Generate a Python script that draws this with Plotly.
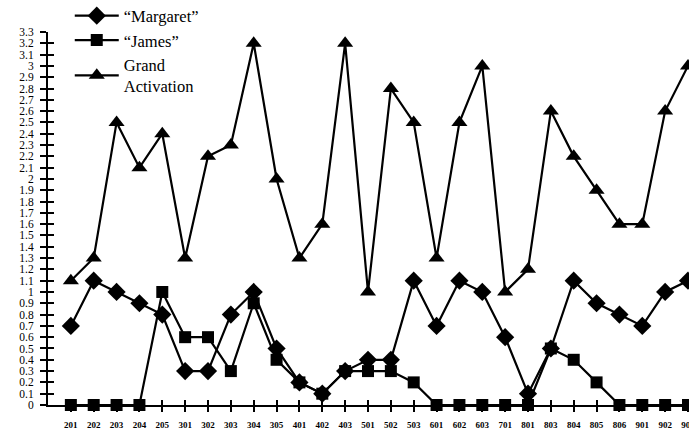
import plotly.graph_objects as go

categories = ["201", "202", "203", "204", "205", "301", "302", "303", "304", "305",
              "401", "402", "403", "501", "502", "503", "601", "602", "603", "701",
              "801", "803", "804", "805", "806", "901", "902", "903"]

margaret = [0.7, 1.1, 1.0, 0.9, 0.8, 0.3, 0.3, 0.8, 1.0, 0.5,
            0.2, 0.1, 0.3, 0.4, 0.4, 1.1, 0.7, 1.1, 1.0, 0.6,
            0.1, 0.5, 1.1, 0.9, 0.8, 0.7, 1.0, 1.1]

james = [0, 0, 0, 0, 1.0, 0.6, 0.6, 0.3, 0.9, 0.4,
         0.2, 0.1, 0.3, 0.3, 0.3, 0.2, 0, 0, 0, 0,
         0, 0.5, 0.4, 0.2, 0, 0, 0, 0]

grand = [1.1, 1.3, 2.5, 2.1, 2.4, 1.3, 2.2, 2.3, 3.2, 2.0,
         1.3, 1.6, 3.2, 1.0, 2.8, 2.5, 1.3, 2.5, 3.0, 1.0,
         1.2, 2.6, 2.2, 1.9, 1.6, 1.6, 2.6, 3.0]

y_tick_labels = ["0", "0.1", "0.2", "0.3", "0.4", "0.5", "0.6", "0.7", "0.8", "0.9",
                 "1", "1.1", "1.2", "1.3", "1.4", "1.5", "1.6", "1.7", "1.8", "1.9",
                 "2", "2.1", "2.2", "2.3", "2.4", "2.5", "2.6", "2.7", "2.8", "2.9",
                 "3", "3.1", "3.2", "3.3"]
y_tick_vals = [float(s) for s in y_tick_labels]

serif = "'Liberation Serif', 'DejaVu Serif', serif"

fig = go.Figure()
fig.add_trace(go.Scatter(x=categories, y=margaret, name="\u201cMargaret\u201d",
                         mode="lines+markers", cliponaxis=False,
                         line=dict(color="black", width=2.2),
                         marker=dict(symbol="diamond", size=14, color="black")))
fig.add_trace(go.Scatter(x=categories, y=james, name="\u201cJames\u201d",
                         mode="lines+markers", cliponaxis=False,
                         line=dict(color="black", width=2.2),
                         marker=dict(symbol="square", size=12, color="black")))
fig.add_trace(go.Scatter(x=categories, y=grand, name="Grand<br>Activation",
                         mode="lines+markers", cliponaxis=False,
                         line=dict(color="black", width=2.2),
                         marker=dict(symbol="triangle-up", size=14, color="black")))

fig.update_layout(
    width=689, height=433,
    margin=dict(l=48, r=1, t=32, b=28, autoexpand=False),
    paper_bgcolor="white", plot_bgcolor="white",
    showlegend=True,
    legend=dict(x=0.034, y=1.09, xanchor="left", yanchor="top",
                font=dict(family=serif, size=16.5, color="black"),
                bgcolor="rgba(0,0,0,0)", tracegroupgap=0, itemwidth=44),
    xaxis=dict(type="category", range=[-1, 27], showgrid=False, zeroline=False,
               showline=True, linecolor="black", linewidth=2,
               ticks="outside", ticklen=5, tickwidth=1.5, tickcolor="black",
               tickfont=dict(family=serif, size=9, color="black", weight="bold"),
               ticklabelstandoff=5),
    xaxis2=dict(overlaying="x", anchor="y", side="bottom", range=[-1, 27],
                tickvals=list(range(len(categories))), showticklabels=False,
                ticks="inside", ticklen=5, tickwidth=1.5, tickcolor="black",
                showgrid=False, zeroline=False, showline=False),
    yaxis=dict(range=[0, 3.3], tickvals=y_tick_vals, ticktext=y_tick_labels,
               showgrid=False, zeroline=False, showline=True, linecolor="black",
               linewidth=2, ticks="outside", ticklen=6, tickwidth=2, tickcolor="black",
               tickfont=dict(family=serif, size=11.5, color="black"),
               ticklabelstandoff=4),
    yaxis2=dict(overlaying="y", anchor="x", side="left", range=[0, 3.3],
                tickvals=y_tick_vals, showticklabels=False,
                ticks="inside", ticklen=6, tickwidth=2, tickcolor="black",
                showgrid=False, zeroline=False, showline=False),
)

# invisible trace to activate the overlay axes
fig.add_trace(go.Scatter(x=[0], y=[0], xaxis="x2", yaxis="y2", mode="markers",
                         marker=dict(opacity=0), showlegend=False, hoverinfo="skip"))

fig.write_html("out.html", config={"displayModeBar": False},
               post_script="document.body.style.margin='0';document.body.style.overflow='hidden';")
